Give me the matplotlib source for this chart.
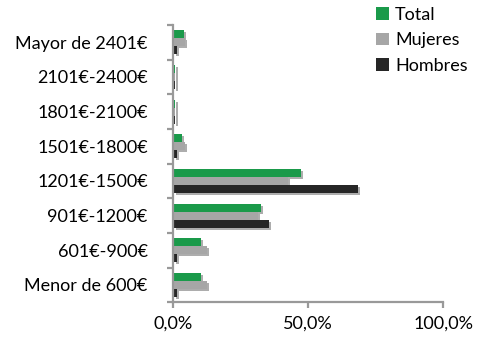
import numpy as np
import matplotlib
matplotlib.use('Agg')
import matplotlib.pyplot as plt
import matplotlib.patheffects as pe

plt.rcParams['font.family'] = ['Lato', 'DejaVu Sans']

categorias = ['Menor de 600€', '601€-900€', '901€-1200€', '1201€-1500€',
              '1501€-1800€', '1801€-2100€', '2101€-2400€', 'Mayor de 2401€']
total = [10.0, 10.0, 32.0, 47.0, 3.0, 0.5, 0.5, 3.5]
mujeres = [12.0, 12.0, 31.0, 42.0, 4.0, 0.5, 0.5, 4.0]
hombres = [1.0, 1.0, 35.0, 68.0, 1.0, 0.5, 0.5, 1.0]

series = [('Total', total, '#1a9a4a'),
          ('Mujeres', mujeres, '#a6a6a6'),
          ('Hombres', hombres, '#262626')]

fig = plt.figure(figsize=(4.9, 3.38), dpi=100)
ax = fig.add_axes([0.3525, 0.106, 0.552, 0.82])

y = np.arange(len(categorias))
h = 0.23
# sombra para dar algo de relieve a las barras
sombra = [pe.SimplePatchShadow(offset=(1.5, -1.5), shadow_rgbFace='#777777', alpha=0.6),
          pe.Normal()]
for i, (nombre, vals, color) in enumerate(series):
    ax.barh(y + (1 - i) * h, vals, height=h, color=color, label=nombre,
            left=0.5, path_effects=sombra)

ax.set_xlim(0, 100)
ax.set_ylim(-0.5, len(categorias) - 0.5)
ax.set_xticks([0, 50, 100])
ax.set_xticklabels(['0,0%', '50,0%', '100,0%'], fontsize=13)
ax.set_yticks(y)
ax.set_yticklabels(categorias, fontsize=13)
ax.set_yticks(np.arange(len(categorias) + 1) - 0.5, minor=True)
ax.tick_params(axis='y', which='major', length=0, pad=18)
ax.tick_params(axis='y', which='minor', length=4, color='#999999', width=1.6)
ax.tick_params(axis='x', length=4, color='#999999', width=1.6, pad=6)

for s in ['top', 'right']:
    ax.spines[s].set_visible(False)
for s in ['left', 'bottom']:
    ax.spines[s].set_color('#999999')
    ax.spines[s].set_linewidth(1.6)

leg = fig.legend(loc='upper left', bbox_to_anchor=(376 / 490, 1 - 7 / 338), frameon=False,
                 fontsize=13, handlelength=0.7, handleheight=0.7, handletextpad=0.35,
                 labelspacing=0.52, borderpad=0, borderaxespad=0)
for hnd in leg.legend_handles:
    hnd.set_path_effects([])

fig.savefig('out.png', dpi=100)
